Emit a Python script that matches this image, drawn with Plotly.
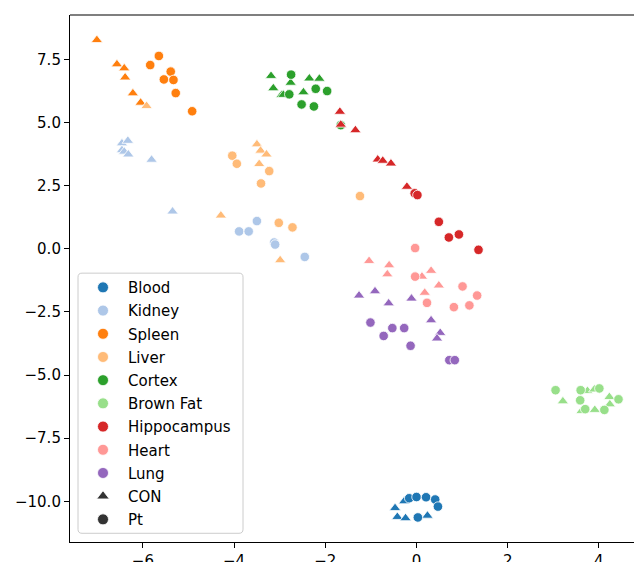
import plotly.graph_objects as go

TISSUES = ["Blood", "Kidney", "Spleen", "Liver", "Cortex", "Brown Fat", "Hippocampus", "Heart", "Lung"]
COLORS = ["#1f77b4", "#aec7e8", "#ff7f0e", "#ffbb78", "#2ca02c", "#98df8a", "#d62728", "#ff9896", "#9467bd"]
GROUPS = ["CON", "Pt"]

BLOOD_CON_X = [-0.27, -0.47, -0.42, -0.24, 0.24]
BLOOD_CON_Y = [-10.0, -10.27, -10.62, -10.67, -10.57]
BLOOD_PT_X = [-0.16, 0.0, 0.21, 0.41, 0.47, 0.03]
BLOOD_PT_Y = [-9.88, -9.83, -9.84, -9.93, -10.21, -10.64]

KIDNEY_CON_X = [-6.46, -6.33, -6.46, -6.41, -6.32, -5.81, -5.35]
KIDNEY_CON_Y = [4.18, 4.28, 3.91, 3.85, 3.74, 3.53, 1.48]
KIDNEY_PT_X = [-3.50, -3.89, -3.68, -3.12, -3.10, -2.45]
KIDNEY_PT_Y = [1.10, 0.69, 0.69, 0.25, 0.17, -0.32]

SPLEEN_CON_X = [-7.01, -6.57, -6.41, -6.39, -6.22, -6.05]
SPLEEN_CON_Y = [8.27, 7.31, 7.15, 6.79, 6.16, 5.79]
SPLEEN_PT_X = [-5.65, -5.84, -5.39, -5.54, -5.33, -5.28, -4.92]
SPLEEN_PT_Y = [7.64, 7.28, 7.02, 6.71, 6.69, 6.17, 5.45]

LIVER_CON_X = [-5.92, -3.50, -3.42, -3.29, -3.45, -4.29, -2.99]
LIVER_CON_Y = [5.66, 4.14, 3.89, 3.74, 3.36, 1.32, -0.45]
LIVER_PT_X = [-4.04, -3.94, -3.23, -3.41, -3.02, -2.72, -1.24]
LIVER_PT_Y = [3.69, 3.37, 3.08, 2.59, 1.03, 0.85, 2.09]

CORTEX_CON_X = [-3.19, -3.14, -2.76, -2.35, -2.13, -2.96, -2.92, -2.48]
CORTEX_CON_Y = [6.85, 6.36, 6.58, 6.75, 6.74, 6.09, 6.10, 6.20]
CORTEX_PT_X = [-2.75, -2.21, -1.96, -2.79, -2.52, -2.25, -1.66]
CORTEX_PT_Y = [6.90, 6.34, 6.25, 6.12, 5.72, 5.64, 4.90]

BROWNFAT_CON_X = [3.21, 3.75, 3.90, 4.23, 4.24, 3.91, 3.62]
BROWNFAT_CON_Y = [-6.04, -5.63, -5.57, -5.87, -6.16, -6.38, -6.42]
BROWNFAT_PT_X = [3.05, 3.60, 4.01, 3.59, 4.43, 4.12, 3.70]
BROWNFAT_PT_Y = [-5.60, -5.60, -5.53, -6.00, -5.96, -6.38, -6.35]

HIPPO_CON_X = [-1.68, -1.66, -1.34, -0.85, -0.74, -0.56, -0.21]
HIPPO_CON_Y = [5.43, 4.92, 4.70, 3.54, 3.49, 3.38, 2.46]
HIPPO_PT_X = [-0.04, 0.02, 0.49, 0.71, 0.93, 1.36]
HIPPO_PT_Y = [2.20, 2.13, 1.07, 0.45, 0.57, -0.04]

HEART_CON_X = [-1.04, -0.60, -0.64, 0.12, 0.32, 0.49, 0.18]
HEART_CON_Y = [-0.48, -0.65, -1.01, -1.10, -0.87, -1.45, -1.74]
HEART_PT_X = [-0.03, -0.03, 0.23, 1.01, 1.33, 0.82, 1.16]
HEART_PT_Y = [0.03, -1.10, -2.14, -1.49, -1.85, -2.31, -2.24]

LUNG_CON_X = [-1.26, -0.91, -0.61, -0.11, 0.32, 0.52, 0.45]
LUNG_CON_Y = [-1.85, -1.68, -2.16, -1.97, -2.83, -3.33, -3.55]
LUNG_PT_X = [-1.01, -0.53, -0.27, -0.72, -0.13, 0.72, 0.84]
LUNG_PT_Y = [-2.92, -3.14, -3.14, -3.45, -3.84, -4.41, -4.41]

Y_TICKS = [-10.0, -7.5, -5.0, -2.5, 0.0, 2.5, 5.0, 7.5]
Y_TICK_TEXT = ["\u221210.0", "\u22127.5", "\u22125.0", "\u22122.5", "0.0", "2.5", "5.0", "7.5"]
X_TICKS = [-6, -4, -2, 0, 2, 4]
X_TICK_TEXT = ["\u22126", "\u22124", "\u22122", "0", "2", "4"]

DATA = {
    "Blood": ((BLOOD_CON_X, BLOOD_CON_Y), (BLOOD_PT_X, BLOOD_PT_Y)),
    "Kidney": ((KIDNEY_CON_X, KIDNEY_CON_Y), (KIDNEY_PT_X, KIDNEY_PT_Y)),
    "Spleen": ((SPLEEN_CON_X, SPLEEN_CON_Y), (SPLEEN_PT_X, SPLEEN_PT_Y)),
    "Liver": ((LIVER_CON_X, LIVER_CON_Y), (LIVER_PT_X, LIVER_PT_Y)),
    "Cortex": ((CORTEX_CON_X, CORTEX_CON_Y), (CORTEX_PT_X, CORTEX_PT_Y)),
    "Brown Fat": ((BROWNFAT_CON_X, BROWNFAT_CON_Y), (BROWNFAT_PT_X, BROWNFAT_PT_Y)),
    "Hippocampus": ((HIPPO_CON_X, HIPPO_CON_Y), (HIPPO_PT_X, HIPPO_PT_Y)),
    "Heart": ((HEART_CON_X, HEART_CON_Y), (HEART_PT_X, HEART_PT_Y)),
    "Lung": ((LUNG_CON_X, LUNG_CON_Y), (LUNG_PT_X, LUNG_PT_Y)),
}

FONT = "DejaVu Sans"
SYMBOLS = {"CON": "triangle-up", "Pt": "circle"}
SIZES = {"CON": 10, "Pt": 9.5}

fig = go.Figure()

for tissue, color in zip(TISSUES, COLORS):
    for grp, (xs, ys) in zip(GROUPS, DATA[tissue]):
        fig.add_trace(go.Scatter(
            x=xs, y=ys, mode="markers", showlegend=False,
            marker=dict(symbol=SYMBOLS[grp], size=SIZES[grp], color=color,
                        line=dict(color="white", width=0.8)),
        ))

# legend entries
for i, (tissue, color) in enumerate(zip(TISSUES, COLORS)):
    fig.add_trace(go.Scatter(
        x=[None], y=[None], mode="markers", name=tissue, legendgroup="g%d" % i,
        marker=dict(symbol="circle", size=11, color=color, line=dict(color="white", width=0.8)),
    ))
for j, grp in enumerate(GROUPS):
    fig.add_trace(go.Scatter(
        x=[None], y=[None], mode="markers", name=grp, legendgroup="s%d" % j,
        marker=dict(symbol=SYMBOLS[grp], size=11, color="#333333", line=dict(color="white", width=0.8)),
    ))

axis_common = dict(
    showgrid=False, zeroline=False, showline=True, linecolor="black", linewidth=1.1,
    ticks="outside", ticklen=5, tickwidth=1.1, tickcolor="black",
    tickfont=dict(family=FONT, size=15, color="black"),
)

# legend frame (rounded rectangle) in paper coordinates
PW, PH = 564.0, 526.7
lx0, lx1 = 8 / PW, 173 / PW
ly0, ly1 = 8.7 / PH, 268.7 / PH
rx, ry = 4 / PW, 4 / PH
frame_path = (
    f"M {lx0 + rx},{ly0} L {lx1 - rx},{ly0} Q {lx1},{ly0} {lx1},{ly0 + ry} "
    f"L {lx1},{ly1 - ry} Q {lx1},{ly1} {lx1 - rx},{ly1} "
    f"L {lx0 + rx},{ly1} Q {lx0},{ly1} {lx0},{ly1 - ry} "
    f"L {lx0},{ly0 + ry} Q {lx0},{ly0} {lx0 + rx},{ly0} Z"
)

fig.update_layout(
    width=634, height=562,
    margin=dict(l=70, r=0, t=15, b=20, autoexpand=False),
    paper_bgcolor="white", plot_bgcolor="white",
    font=dict(family=FONT, size=15, color="black"),
    xaxis=dict(range=[-7.599, 4.770], tickvals=X_TICKS, ticktext=X_TICK_TEXT, **axis_common),
    yaxis=dict(range=[-11.613, 9.263], tickvals=Y_TICKS, ticktext=Y_TICK_TEXT, **axis_common),
    legend=dict(
        x=0.0142, xanchor="left", y=0.514, yanchor="top",
        bgcolor="rgba(0,0,0,0)", borderwidth=0,
        font=dict(family=FONT, size=15, color="black"),
        tracegroupgap=0.7, traceorder="grouped", itemwidth=40,
    ),
    shapes=[
        dict(type="line", xref="paper", yref="paper", x0=0, x1=1.05, y0=1, y1=1,
             line=dict(color="black", width=1.1)),
        dict(type="path", xref="paper", yref="paper", path=frame_path, layer="above",
             fillcolor="rgba(255,255,255,0.8)", line=dict(color="#cccccc", width=1)),
    ],
)

fig.write_html("out.html")
